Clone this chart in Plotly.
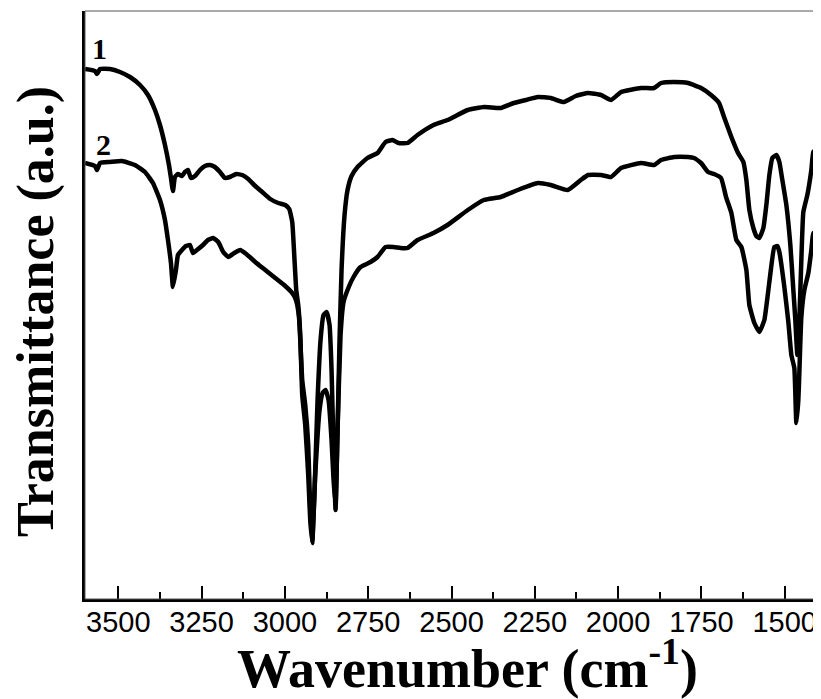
import plotly.graph_objects as go

# Sample 1 (upper curve)
wn1 = [3600, 3570, 3564, 3555, 3525, 3495, 3465, 3435, 3411, 3390, 3375, 3360, 3348, 3342, 3336,
       3330, 3321, 3309, 3300, 3291, 3282, 3270, 3255, 3240, 3225, 3210, 3195, 3180, 3165, 3146,
       3128, 3110, 3089, 3068, 3044, 3020, 2999, 2987, 2978, 2972, 2966, 2960, 2954, 2948, 2939,
       2930, 2924, 2918, 2912, 2902, 2893, 2884, 2875, 2866, 2860, 2854, 2848, 2842, 2836, 2830,
       2821, 2812, 2800, 2782, 2752, 2722, 2698, 2677, 2659, 2632, 2602, 2554, 2512, 2451, 2403,
       2352, 2313, 2277, 2241, 2202, 2163, 2127, 2090, 2051, 2021, 1991, 1931, 1892, 1871, 1832,
       1790, 1751, 1721, 1697, 1682, 1660, 1640, 1624, 1615, 1606, 1594, 1585, 1576, 1564, 1555,
       1546, 1537, 1525, 1516, 1507, 1495, 1483, 1474, 1468, 1462, 1456, 1450, 1444, 1432, 1420,
       1414, 1405, 1396]
t1 = [530, 528, 525, 530, 530, 527, 522, 514, 504, 489, 474, 454, 434, 421, 408,
      422, 425, 423, 427, 429, 421, 423, 429, 433, 434, 432, 427, 421, 422, 425,
      424, 420, 413, 407, 400, 396, 394, 390, 377, 344, 309, 294, 264, 204, 174,
      124, 79, 56, 99, 199, 259, 284, 287, 274, 229, 149, 89, 169, 259, 329,
      384, 409, 423, 432, 441, 446, 457, 459, 456, 456, 464, 474, 479, 489, 492,
      491, 496, 499, 502, 501, 497, 503, 506, 504, 499, 507, 511, 511, 516, 517,
      516, 511, 504, 496, 482, 462, 446, 437, 419, 389, 371, 363, 361, 371, 394,
      424, 441, 444, 437, 419, 394, 354, 309, 279, 244, 279, 339, 387, 404, 429,
      447, 449, 431]

# Sample 2 (lower curve)
wn2 = [3600, 3570, 3564, 3555, 3525, 3489, 3450, 3420, 3396, 3375, 3360, 3351, 3342, 3336, 3327,
       3321, 3309, 3297, 3285, 3276, 3264, 3246, 3231, 3215, 3200, 3185, 3170, 3152, 3134, 3116,
       3089, 3059, 3029, 2999, 2978, 2969, 2963, 2957, 2948, 2939, 2930, 2924, 2918, 2909, 2896,
       2887, 2878, 2869, 2860, 2854, 2848, 2842, 2833, 2824, 2812, 2794, 2773, 2743, 2722, 2698,
       2674, 2653, 2632, 2602, 2554, 2512, 2451, 2403, 2352, 2301, 2241, 2202, 2151, 2112, 2090,
       2051, 2021, 1991, 1931, 1892, 1871, 1832, 1790, 1772, 1751, 1730, 1712, 1691, 1676, 1660,
       1645, 1630, 1615, 1606, 1591, 1576, 1561, 1546, 1531, 1522, 1516, 1501, 1489, 1480, 1471,
       1465, 1459, 1456, 1450, 1441, 1429, 1420, 1414, 1405, 1396]
t2 = [436, 433, 429, 436, 437, 438, 434, 427, 416, 399, 379, 359, 336, 312, 329,
      344, 349, 353, 354, 346, 349, 354, 359, 361, 357, 347, 342, 346, 349, 345,
      337, 329, 321, 313, 306, 301, 294, 279, 219, 194, 154, 89, 59, 124, 189,
      206, 209, 199, 159, 119, 94, 169, 264, 297, 309, 322, 332, 337, 342, 352,
      352, 351, 351, 359, 366, 374, 389, 399, 402, 409, 416, 414, 409, 419, 424,
      424, 422, 431, 436, 434, 439, 442, 442, 441, 436, 427, 425, 421, 402, 386,
      359, 352, 329, 294, 276, 267, 279, 317, 352, 353, 347, 312, 277, 244, 231,
      176, 199, 226, 282, 309, 326, 349, 366, 361, 346]

labels = ["1", "2"]
label_wn = [3555, 3545]
label_t = [551, 455]

x_ticks = [3500, 3250, 3000, 2750, 2500, 2250, 2000, 1750, 1500]

fig = go.Figure()
for wn, t in [(wn1, t1), (wn2, t2)]:
    fig.add_trace(go.Scatter(x=wn, y=t, mode="lines",
                             line=dict(color="black", width=4.5, shape="spline", smoothing=0.4),
                             showlegend=False, hoverinfo="skip"))

for lab, lx, ly in zip(labels, label_wn, label_t):
    fig.add_annotation(x=lx, y=ly, text=f"<b>{lab}</b>", showarrow=False,
                       font=dict(family="Liberation Serif", size=30, color="black"))

fig.add_annotation(xref="paper", yref="paper", x=0.5225, y=0, yanchor="middle", yshift=-65,
                   text="<b>Wavenumber (cm<sup>-1</sup>)</b>", showarrow=False,
                   font=dict(family="Liberation Serif", size=54, color="black"))
fig.add_annotation(xref="paper", yref="paper", x=0, xanchor="center", xshift=-49, y=0.488,
                   text="<b>Transmittance (a.u.)</b>", textangle=-90, showarrow=False,
                   font=dict(family="Liberation Serif", size=52, color="black"))

# thin gray frame on top/right
fig.add_shape(type="rect", xref="paper", yref="paper", x0=0, y0=0, x1=1, y1=1,
              line=dict(color="#555555", width=1), layer="above")

fig.update_xaxes(range=[3600, 1400], tickvals=x_ticks, ticks="inside", ticklen=13, tickwidth=2,
                 tickcolor="black", showline=True, linecolor="black", linewidth=2.5,
                 showgrid=False, zeroline=False, ticklabelstandoff=-5,
                 minor=dict(dtick=125, ticks="inside", ticklen=7, tickwidth=2, tickcolor="black"),
                 tickfont=dict(family="Liberation Sans", size=29, color="black"))
fig.update_yaxes(range=[0, 588], showticklabels=False, ticks="", showline=True,
                 linecolor="black", linewidth=2.5, showgrid=False, zeroline=False)

# the page adds an 8 px body margin, so the figure is sized 8 px smaller
fig.update_layout(width=813, height=691, autosize=False,
                  margin=dict(l=77, r=3, t=3, b=100),
                  plot_bgcolor="white", paper_bgcolor="white")

fig.write_html("out.html")
